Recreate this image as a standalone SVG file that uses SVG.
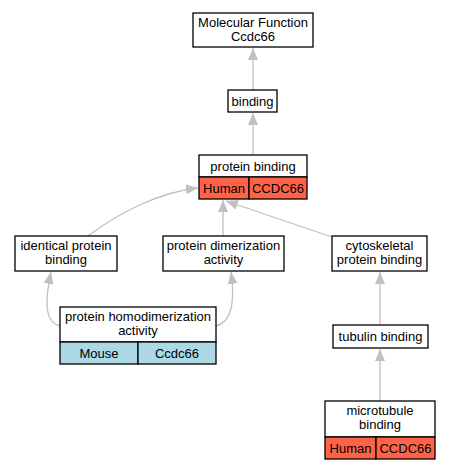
<svg xmlns="http://www.w3.org/2000/svg" width="451" height="469" viewBox="0 0 451 469">
<style>
.box{fill:#ffffff;stroke:#000000;stroke-width:1.3}
.hum{fill:#ff6347;stroke:#000000;stroke-width:1.3}
.mou{fill:#add8e6;stroke:#000000;stroke-width:1.3}
text{font-family:"Liberation Sans",Arial,sans-serif;font-size:13px;fill:#000000;text-anchor:middle}
.edge{fill:none;stroke:#c0c0c0;stroke-width:1.3}
</style>
<defs>
<marker id="arr" markerUnits="userSpaceOnUse" markerWidth="12" markerHeight="10" viewBox="0 0 12 10" refX="12" refY="5" orient="auto">
<path d="M0,0 L12,5 L0,10 Z" fill="#c0c0c0"/>
</marker>
</defs>
<g id="edges">
<path class="edge" d="M253,90 L253,48" marker-end="url(#arr)"/>
<path class="edge" d="M253,155 L253,113" marker-end="url(#arr)"/>
<path class="edge" d="M88,236 C120,212 160,192 198,188" marker-end="url(#arr)"/>
<path class="edge" d="M223,236 L223,200" marker-end="url(#arr)"/>
<path class="edge" d="M332,237 L226,201" marker-end="url(#arr)"/>
<path class="edge" d="M60,326 C44,322 45,300 51,272" marker-end="url(#arr)"/>
<path class="edge" d="M216,326 C232,322 235,300 231,272" marker-end="url(#arr)"/>
<path class="edge" d="M380,325 L380,272" marker-end="url(#arr)"/>
<path class="edge" d="M380,401 L380,349" marker-end="url(#arr)"/>
</g>
<g id="mf">
<rect class="box" x="193" y="13" width="120" height="34"/>
<text x="253" y="27">Molecular Function</text>
<text x="253" y="41">Ccdc66</text>
</g>
<g id="binding">
<rect class="box" x="228" y="90" width="49" height="22"/>
<text x="252.5" y="105.5">binding</text>
</g>
<g id="protein_binding">
<rect class="box" x="199" y="155" width="108" height="22"/>
<text x="253" y="170.5">protein binding</text>
<rect class="hum" x="199" y="177" width="50" height="22"/>
<text x="224" y="192.5">Human</text>
<rect class="hum" x="249" y="177" width="58" height="22"/>
<text x="278" y="192.5">CCDC66</text>
</g>
<g id="identical">
<rect class="box" x="15" y="236" width="102" height="35"/>
<text x="66" y="250">identical protein</text>
<text x="66" y="264">binding</text>
</g>
<g id="dimerization">
<rect class="box" x="163" y="236" width="121" height="35"/>
<text x="223.5" y="250">protein dimerization</text>
<text x="223.5" y="264">activity</text>
</g>
<g id="cytoskeletal">
<rect class="box" x="332" y="236" width="95" height="35"/>
<text x="379.5" y="250">cytoskeletal</text>
<text x="379.5" y="264">protein binding</text>
</g>
<g id="homodimerization">
<rect class="box" x="60" y="307" width="156" height="35"/>
<text x="138" y="321">protein homodimerization</text>
<text x="138" y="335">activity</text>
<rect class="mou" x="60" y="342" width="78" height="22"/>
<text x="99" y="357.5">Mouse</text>
<rect class="mou" x="138" y="342" width="78" height="22"/>
<text x="177" y="357.5">Ccdc66</text>
</g>
<g id="tubulin">
<rect class="box" x="333" y="325" width="95" height="23"/>
<text x="380.5" y="340.5">tubulin binding</text>
</g>
<g id="microtubule">
<rect class="box" x="325" y="401" width="110" height="36"/>
<text x="380" y="415">microtubule</text>
<text x="380" y="429">binding</text>
<rect class="hum" x="325" y="437" width="51" height="22"/>
<text x="350.5" y="452.5">Human</text>
<rect class="hum" x="376" y="437" width="59" height="22"/>
<text x="405.5" y="452.5">CCDC66</text>
</g>
</svg>
